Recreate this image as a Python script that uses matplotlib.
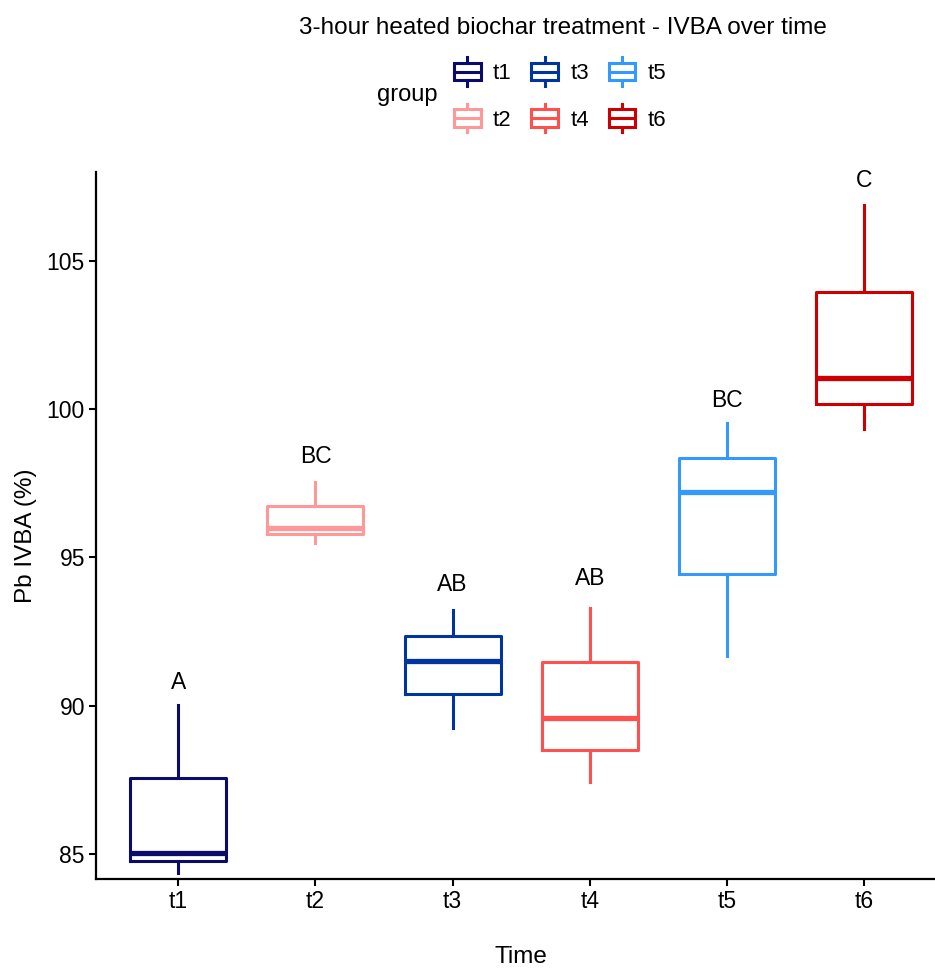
import matplotlib
matplotlib.use("Agg")
import matplotlib.pyplot as plt
from matplotlib.lines import Line2D
from matplotlib.patches import Rectangle
from matplotlib.legend_handler import HandlerBase

plt.rcParams['font.family'] = ['Liberation Sans', 'DejaVu Sans']

# ---- data ----
groups = ["t1", "t2", "t3", "t4", "t5", "t6"]
whisker_low = [84.35, 95.50, 89.24, 87.43, 91.67, 99.32]
q1 = [84.76, 95.80, 90.39, 88.50, 94.45, 100.19]
median = [85.04, 96.00, 91.51, 89.60, 97.20, 101.05]
q3 = [87.55, 96.73, 92.36, 91.47, 98.36, 103.95]
whisker_high = [90.01, 97.53, 93.23, 93.30, 99.52, 106.89]
letters = ["A", "BC", "AB", "AB", "BC", "C"]
letter_y = [90.8, 98.4, 94.1, 94.3, 100.3, 107.7]
colors = ["#0B0B6B", "#FF9999", "#0035A0", "#FF5050", "#3399FF", "#CC0000"]

title = "3-hour heated biochar treatment - IVBA over time"
xlabel = "Time"
ylabel = "Pb IVBA (%)"
yticks = [85, 90, 95, 100, 105]

W, H = 935, 968
fig = plt.figure(figsize=(W / 100, H / 100), dpi=100)
ax = fig.add_axes([96 / W, 1 - 879 / H, 1 - 96 / W, (879 - 172) / H])

positions = list(range(1, len(groups) + 1))
for i, g in enumerate(groups):
    st = dict(med=median[i], q1=q1[i], q3=q3[i], whislo=whisker_low[i],
              whishi=whisker_high[i], fliers=[], label=g)
    c = colors[i]
    ax.bxp([st], positions=[positions[i]], widths=0.7, showcaps=False,
           showfliers=False, patch_artist=False,
           boxprops=dict(color=c, linewidth=2.2),
           whiskerprops=dict(color=c, linewidth=2.2),
           medianprops=dict(color=c, linewidth=3.8, solid_capstyle='butt'))
    ax.text(positions[i], letter_y[i], letters[i], ha='center', va='center',
            fontsize=16.5, color='black')

ax.set_xlim(0.4, 6.517)
ax.set_ylim(84.157, 108.0)
ax.set_xticks(positions)
ax.set_xticklabels(groups)
ax.set_yticks(yticks)
ax.set_yticklabels([str(v) for v in yticks])
ax.tick_params(axis='both', length=5, width=1.5, labelsize=16.5, colors='black', pad=3)
for s in ['top', 'right']:
    ax.spines[s].set_visible(False)
for s in ['left', 'bottom']:
    ax.spines[s].set_linewidth(1.6)

axw = W - 96
axh = 879 - 172
ax.set_xlabel(xlabel, fontsize=17.5)
ax.xaxis.set_label_coords((521 - 96) / axw, (879 - 957) / axh)
ax.xaxis.label.set_va('center')
ax.set_ylabel(ylabel, fontsize=17.5)
ax.yaxis.set_label_coords((26 - 96) / axw, (879 - 536) / axh)
ax.yaxis.label.set_va('center')


class BoxHandler(HandlerBase):
    def create_artists(self, legend, orig_handle, xdescent, ydescent, width,
                       height, fontsize, trans):
        c = orig_handle.get_color()
        x0, y0 = -xdescent, -ydescent
        cx = x0 + width / 2
        cy = y0 + height / 2
        hw, hh, wh = 9.7, 6.3, 10.3
        rect = Rectangle((cx - hw, cy - hh), 2 * hw, 2 * hh, fill=False,
                         edgecolor=c, linewidth=2.2, transform=trans)
        med = Line2D([cx - hw, cx + hw], [cy, cy], color=c, linewidth=2.2,
                     transform=trans)
        w1 = Line2D([cx, cx], [cy - wh, cy - hh], color=c, linewidth=2.2,
                    transform=trans)
        w2 = Line2D([cx, cx], [cy + hh, cy + wh], color=c, linewidth=2.2,
                    transform=trans)
        return [rect, med, w1, w2]


handles = [Line2D([], [], color=c) for c in colors]
fs_leg = 16
leg = fig.legend(handles, groups, ncol=3, loc='center left',
                 bbox_to_anchor=(441.5 / W, 1 - 95 / H), frameon=False,
                 handler_map={Line2D: BoxHandler()}, fontsize=fs_leg,
                 handlelength=21 / fs_leg, handleheight=1.3,
                 handletextpad=0.5, columnspacing=0.83, labelspacing=0.99,
                 borderpad=0.0)
fig.text(407 / W, 1 - 95 / H, "group", ha='center', va='center', fontsize=17)
fig.text(563 / W, 1 - 28 / H, title, ha='center', va='center', fontsize=17.5)

fig.savefig("out.png", dpi=100)
